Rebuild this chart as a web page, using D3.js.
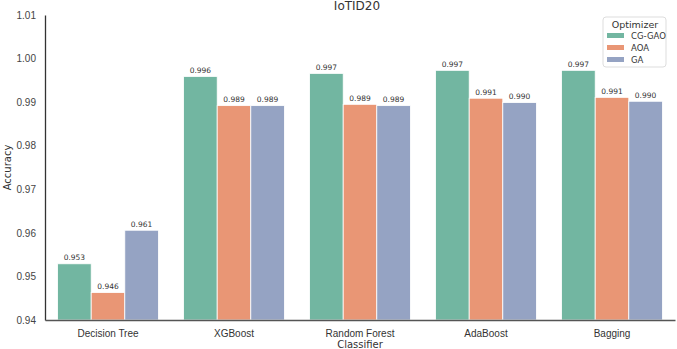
<!DOCTYPE html>
<html>
<head>
<meta charset="utf-8">
<script src="https://cdn.jsdelivr.net/npm/d3@7"></script>
<style>
  body { margin: 0; background: #fff; }
  svg { display: block; font-family: "DejaVu Sans", sans-serif; }
</style>
</head>
<body>
<svg id="chart" width="677" height="349"></svg>
<script>
const classifiers = ["Decision Tree", "XGBoost", "Random Forest", "AdaBoost", "Bagging"];
const optimizers = ["CG-GAO", "AOA", "GA"];
const cgGao = [0.9529, 0.9959, 0.9966, 0.9973, 0.9973];
const aoa   = [0.9463, 0.9892, 0.9895, 0.9909, 0.9911];
const ga    = [0.9606, 0.9892, 0.9892, 0.9899, 0.9902];
const barLabels = [
  ["0.953", "0.996", "0.997", "0.997", "0.997"],
  ["0.946", "0.989", "0.989", "0.991", "0.991"],
  ["0.961", "0.989", "0.989", "0.990", "0.990"]
];
const yTicks = [0.94, 0.95, 0.96, 0.97, 0.98, 0.99, 1.00, 1.01];
const colors = ["#72b6a1", "#e99675", "#95a3c3"];

const seriesVals = [cgGao, aoa, ga];
const MARGIN = { top: 15, right: 2, bottom: 29, left: 45 };
const W = 677, H = 349;
const innerW = W - MARGIN.left - MARGIN.right;
const innerH = H - MARGIN.top - MARGIN.bottom;

const svg = d3.select("#chart");
const g = svg.append("g").attr("transform", `translate(${MARGIN.left},${MARGIN.top})`);

const x0 = d3.scaleBand().domain(classifiers).range([0, innerW]).paddingInner(0.2).paddingOuter(0.1);
const x1 = d3.scaleBand().domain(optimizers).range([0, x0.bandwidth()]);
const y = d3.scaleLinear().domain([0.94, 1.01]).range([innerH, 0]);

// bars, one group per classifier
const groups = g.selectAll(".grp").data(classifiers).join("g")
  .attr("transform", d => `translate(${x0(d)},0)`);

groups.each(function(cls, ci) {
  const grp = d3.select(this);
  optimizers.forEach((opt, oi) => {
    const v = seriesVals[oi][ci];
    grp.append("rect")
      .attr("x", x1(opt))
      .attr("y", y(v))
      .attr("width", x1.bandwidth())
      .attr("height", innerH - y(v))
      .attr("fill", colors[oi])
      .attr("stroke", "#fff")
      .attr("stroke-width", 0.8);
    grp.append("text")
      .attr("x", x1(opt) + x1.bandwidth() / 2)
      .attr("y", y(v) - 3.5)
      .attr("text-anchor", "middle")
      .attr("font-size", 7.5)
      .attr("fill", "#333")
      .text(barLabels[oi][ci]);
  });
});

// axes
const yAxis = g.append("g")
  .call(d3.axisLeft(y).tickValues(yTicks).tickFormat(d3.format(".2f")).tickSize(0).tickPadding(9));
yAxis.select(".domain").attr("stroke", "#333").attr("stroke-width", 1.3);
yAxis.selectAll("text").attr("font-size", 10).attr("fill", "#444");

const xAxis = g.append("g").attr("transform", `translate(0,${innerH})`)
  .call(d3.axisBottom(x0).tickSize(0).tickPadding(10));
xAxis.select(".domain").attr("stroke", "#555").attr("stroke-width", 1.3);
xAxis.selectAll("text").attr("font-size", 10).attr("fill", "#333");

// axis titles
svg.append("text")
  .attr("transform", `translate(11,${MARGIN.top + innerH / 2}) rotate(-90)`)
  .attr("text-anchor", "middle")
  .attr("font-size", 10).attr("fill", "#333")
  .text("Accuracy");

svg.append("text")
  .attr("x", MARGIN.left + innerW / 2).attr("y", 348)
  .attr("text-anchor", "middle")
  .attr("font-size", 10).attr("fill", "#333")
  .text("Classifier");

svg.append("text")
  .attr("x", MARGIN.left + innerW / 2 - 3).attr("y", 10)
  .attr("text-anchor", "middle")
  .attr("font-size", 12).attr("fill", "#333")
  .text("IoTID20");

// legend
const leg = svg.append("g").attr("transform", "translate(603,17)");
leg.append("rect")
  .attr("width", 63).attr("height", 50).attr("rx", 3)
  .attr("fill", "#fff").attr("stroke", "#ddd");
leg.append("text")
  .attr("x", 32).attr("y", 11)
  .attr("text-anchor", "middle")
  .attr("font-size", 9.5).attr("fill", "#333")
  .text("Optimizer");
optimizers.forEach((opt, i) => {
  const yy = 18 + i * 12;
  leg.append("rect")
    .attr("x", 4).attr("y", yy - 2)
    .attr("width", 17).attr("height", 5)
    .attr("fill", colors[i]);
  leg.append("text")
    .attr("x", 28).attr("y", yy + 3.5)
    .attr("font-size", 8.5).attr("fill", "#333")
    .text(opt);
});
</script>
</body>
</html>
